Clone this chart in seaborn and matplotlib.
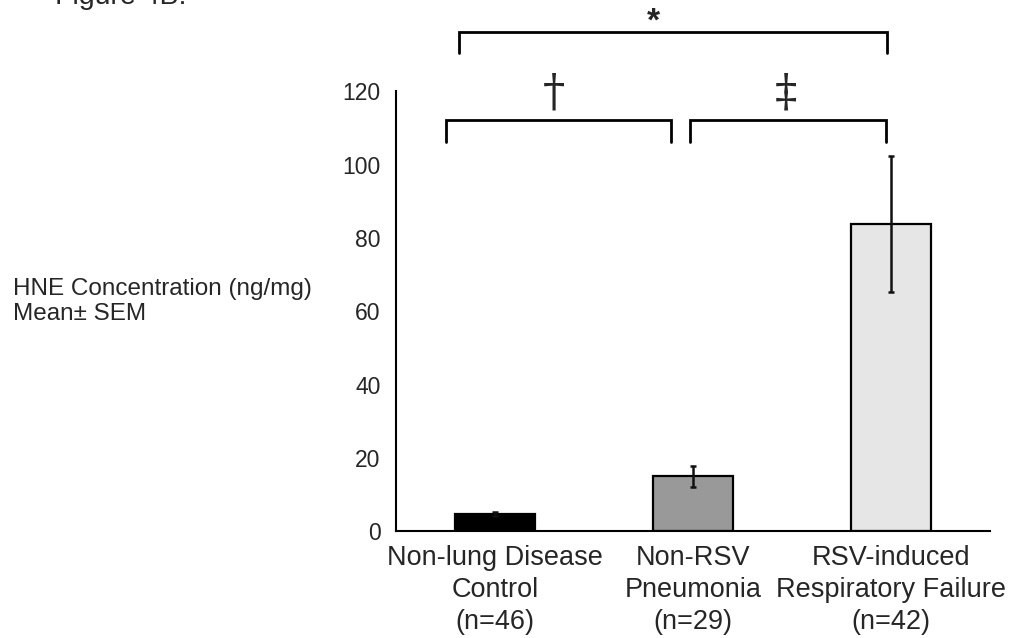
import matplotlib
matplotlib.use("Agg")
import matplotlib.pyplot as plt
import seaborn as sns
import pandas as pd

# Group labels, means and standard errors
groups = ["Non-lung Disease\nControl\n(n=46)",
          "Non-RSV\nPneumonia\n(n=29)",
          "RSV-induced\nRespiratory Failure\n(n=42)"]
means = [4.6, 15.0, 83.8]
sems = [0.6, 2.85, 18.5]
bar_colors = ["#000000", "#999999", "#e6e6e6"]
y_ticks = [0, 20, 40, 60, 80, 100, 120]

sns.set_style("white")
plt.rcParams["font.family"] = ["Liberation Sans", "DejaVu Sans"]

df = pd.DataFrame({"group": groups, "hne": means})

fig = plt.figure(figsize=(10.2, 6.38), dpi=100)
ax = fig.add_axes([0.3882, 0.1677, 0.5824, 0.6889])

sns.barplot(data=df, x="group", y="hne", hue="group", palette=bar_colors,
            width=0.40, errorbar=None, legend=False, ax=ax,
            edgecolor="black", linewidth=1.6, saturation=1)

ax.errorbar(range(len(means)), means, yerr=sems, fmt="none",
            ecolor="#111111", elinewidth=1.8, capsize=2.5, capthick=1.8,
            zorder=5)

ax.set_xlim(-0.5, 2.5)
ax.set_ylim(0, 120)
ax.set_yticks(y_ticks)
ax.set_yticklabels([str(t) for t in y_ticks], fontsize=16.5)
ax.set_xticks([0, 1, 2])
ax.set_xticklabels(groups, fontsize=19.5, linespacing=1.31)
ax.set_xticks([0.5, 1.5], minor=True)
ax.tick_params(axis="x", which="major", length=0, pad=10)
ax.tick_params(axis="x", which="minor", length=3, width=1.2,
               direction="out", color="black")
ax.tick_params(axis="y", length=2, width=1.2, direction="in",
               color="black", pad=11)
ax.set_xlabel("")
ax.set_ylabel("")

for side in ["top", "right"]:
    ax.spines[side].set_visible(False)
for side in ["left", "bottom"]:
    ax.spines[side].set_color("black")
    ax.spines[side].set_linewidth(1.5)

# Significance brackets above the bars
def bracket(x0, x1, y_top, y_bot):
    ax.plot([x0, x0, x1, x1], [y_bot, y_top, y_top, y_bot],
            color="black", lw=2.0, clip_on=False, solid_joinstyle="miter")

bracket(-0.247, 0.889, 112.1, 106.1)
bracket(0.985, 1.975, 112.1, 106.1)
bracket(-0.18, 1.98, 136.2, 130.4)

ax.text(0.298, 119.5, "\u2020", ha="center", va="center", fontsize=32,
        family=["DejaVu Serif"], clip_on=False)
ax.text(1.47, 119.5, "\u2021", ha="center", va="center", fontsize=32,
        family=["DejaVu Serif"], clip_on=False)
ax.text(0.80, 139.0, "*", ha="center", va="center", fontsize=24,
        fontweight="bold", clip_on=False)

# Axis title on the left, written horizontally
fig.text(13 / 1020, 1 - 295 / 638, "HNE Concentration (ng/mg)",
         ha="left", va="baseline", fontsize=17.5)
fig.text(13 / 1020, 1 - 320 / 638, "Mean\u00b1 SEM",
         ha="left", va="baseline", fontsize=17.5)

# Figure caption, running off the top edge
fig.text(55 / 1020, 1 - 4 / 638, "Figure 4B:", ha="left", va="baseline",
         fontsize=20.5)

fig.savefig("out.png", dpi=100)
